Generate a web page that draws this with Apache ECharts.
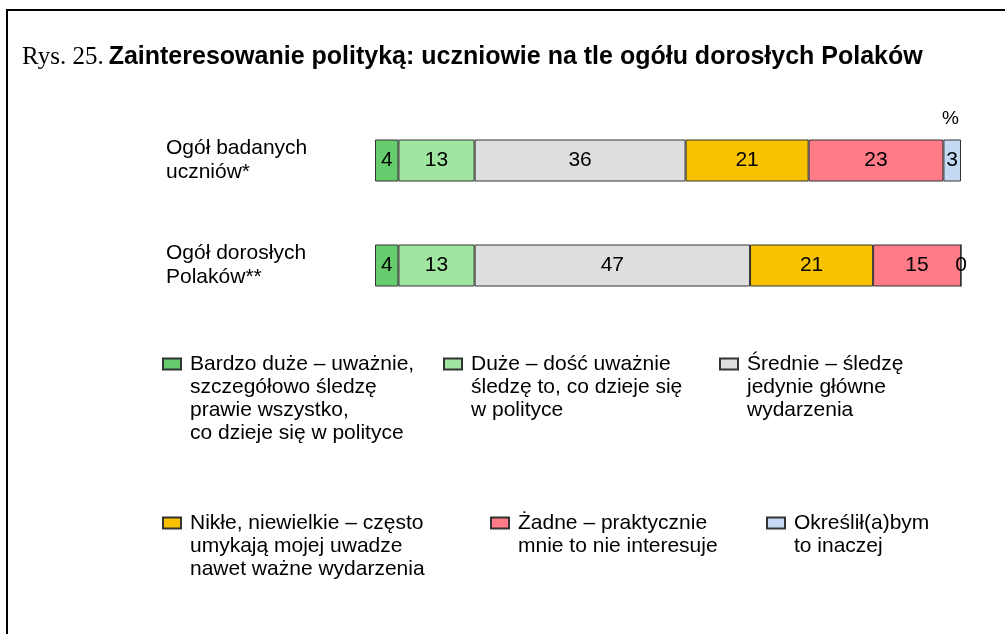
<!DOCTYPE html>
<html>
<head>
<meta charset="utf-8">
<script src="https://cdn.jsdelivr.net/npm/echarts@6/dist/echarts.min.js"></script>
<style>
  html, body { margin: 0; padding: 0; background: #fff; }
  #main { width: 1005px; height: 634px; }
</style>
</head>
<body>
<div id="main"></div>
<script>
var categories = ['Ogół badanych\nuczniów*', 'Ogół dorosłych\nPolaków**'];

var seriesNames = [
    'Bardzo duże – uważnie,\nszczegółowo śledzę\nprawie wszystko,\nco dzieje się w polityce',
    'Duże – dość uważnie\nśledzę to, co dzieje się\nw polityce',
    'Średnie – śledzę\njedynie główne\nwydarzenia',
    'Nikłe, niewielkie – często\numykają mojej uwadze\nnawet ważne wydarzenia',
    'Żadne – praktycznie\nmnie to nie interesuje',
    'Określił(a)bym\nto inaczej'
];
var bardzoDuze = [4, 4];
var duze = [13, 13];
var srednie = [36, 47];
var nikle = [21, 21];
var zadne = [23, 15];
var inaczej = [3, 0];

var values = [bardzoDuze, duze, srednie, nikle, zadne, inaczej];
var colors = ['#66cc6e', '#a0e6a0', '#dedede', '#f7c300', '#ff7b87', '#c3daf2'];
var font = 'Liberation Sans, Arial, sans-serif';

// legend slots: icon left x, first line centre y
var legendPos = [[162, 364], [443, 364], [719, 364], [162, 523], [490, 523], [766, 523]];
var lineH = 23;

var chart = echarts.init(document.getElementById('main'));

var series = [];
var legends = [];
for (var i = 0; i < seriesNames.length; i++) {
    series.push({
        name: seriesNames[i],
        type: 'bar',
        stack: 'all',
        barWidth: 42,
        itemStyle: {
            color: colors[i],
            borderColor: '#333',
            borderWidth: 1
        },
        label: {
            show: true,
            position: 'inside',
            color: '#000',
            fontSize: 21,
            fontFamily: font
        },
        data: values[i]
    });
    var n = seriesNames[i].split('\n').length;
    legends.push({
        data: [seriesNames[i]],
        left: legendPos[i][0],
        top: legendPos[i][1] - (2 * n - 1) * lineH / 2,
        padding: 0,
        itemWidth: 18,
        itemHeight: 11,
        icon: 'rect',
        selectedMode: false,
        // blank lines on top so the icon sits by the first line
        formatter: function (name) {
            var k = name.split('\n').length;
            return new Array(k).join('\n') + name;
        },
        textStyle: {
            fontSize: 21,
            lineHeight: lineH,
            color: '#000',
            fontFamily: font,
            padding: [0, 0, 0, 4]
        }
    });
}

var option = {
    animation: false,
    backgroundColor: '#fff',
    title: {
        left: 22,
        top: 45,
        padding: 0,
        text: '{a|Rys. 25.} {b|Zainteresowanie polityką: uczniowie na tle ogółu dorosłych Polaków}',
        textStyle: {
            fontWeight: 'normal',
            rich: {
                a: { fontFamily: 'Liberation Serif, Times New Roman, serif', fontSize: 25, fontWeight: 'normal', color: '#000' },
                b: { fontFamily: font, fontSize: 25, fontWeight: 'bold', color: '#000' }
            }
        }
    },
    legend: legends,
    grid: {
        left: 375,
        right: 44,
        top: 108,
        height: 210
    },
    xAxis: {
        type: 'value',
        min: 0,
        max: 100,
        show: false
    },
    yAxis: {
        type: 'category',
        inverse: true,
        data: categories,
        axisLine: { show: false },
        axisTick: { show: false },
        axisLabel: {
            align: 'left',
            margin: 209,
            fontSize: 21,
            lineHeight: 24,
            padding: [5, 0, 0, 0],
            color: '#000',
            fontFamily: font
        }
    },
    graphic: [
        {
            type: 'text',
            left: 942,
            top: 109,
            style: { text: '%', fontSize: 19, fill: '#000', fontFamily: font }
        },
        {
            type: 'line',
            shape: { x1: 6, y1: 10, x2: 1005, y2: 10 },
            style: { stroke: '#000', lineWidth: 2 }
        },
        {
            type: 'line',
            shape: { x1: 7, y1: 9, x2: 7, y2: 634 },
            style: { stroke: '#000', lineWidth: 2 }
        }
    ],
    series: series
};

chart.setOption(option);
window.addEventListener('resize', function () {
    chart.resize();
});
</script>
</body>
</html>
